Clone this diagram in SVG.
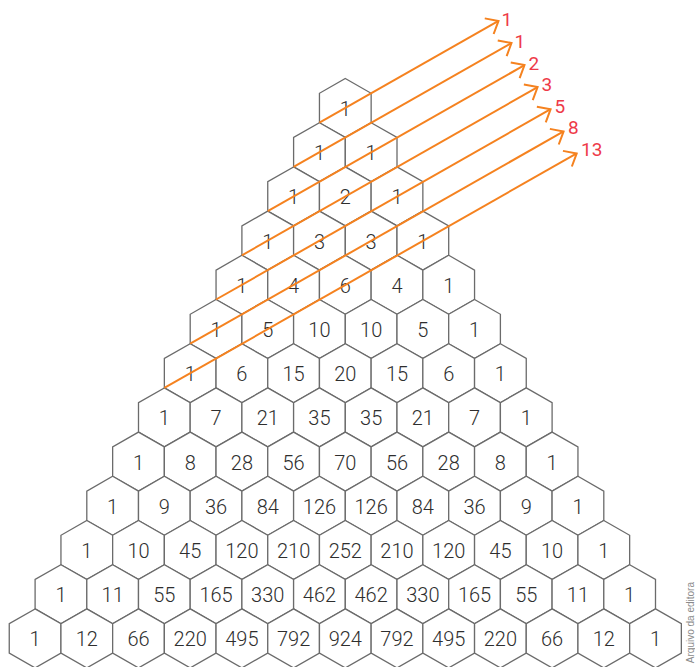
<svg xmlns="http://www.w3.org/2000/svg" xmlns:xlink="http://www.w3.org/1999/xlink" width="695" height="667" viewBox="0 0 695 667">
<style>
.hx{fill:#fff;stroke:#6b6b6b;stroke-width:1.3;stroke-linejoin:miter}
.n text{font-family:Roboto,"Liberation Sans",sans-serif;font-weight:300;font-size:20px;fill:#2e2e2e;text-anchor:middle}
.ln{fill:none;stroke:#F5821F;stroke-width:2;marker-end:url(#arr)}
.lb{font-family:Roboto,"Liberation Sans",sans-serif;font-weight:400;font-size:19px;fill:#EE3A48}
.cr{font-family:"Liberation Sans",Arial,sans-serif;font-size:10px;fill:#8a8a8a}
</style>
<defs>
<polygon id="hex" class="hx" points="0,-29.5 25.85,-14.7 25.85,14.7 0,29.5 -25.85,14.7 -25.85,-14.7"/>
<marker id="arr" markerUnits="userSpaceOnUse" markerWidth="40" markerHeight="40" refX="0" refY="0" orient="auto" overflow="visible">
<path d="M-10.7,-9 L0,0 L-10.7,9" fill="none" stroke="#F5821F" stroke-width="2"/>
</marker>
</defs>
<rect width="695" height="667" fill="#fff"/>
<g id="nodes" class="n">
<g id="n0-0" transform="translate(345.3,108)"><use href="#hex"/><text y="8">1</text></g>
<g id="n1-0" transform="translate(319.45,152.2)"><use href="#hex"/><text y="8">1</text></g>
<g id="n1-1" transform="translate(371.15,152.2)"><use href="#hex"/><text y="8">1</text></g>
<g id="n2-0" transform="translate(293.6,196.4)"><use href="#hex"/><text y="8">1</text></g>
<g id="n2-1" transform="translate(345.3,196.4)"><use href="#hex"/><text y="8">2</text></g>
<g id="n2-2" transform="translate(397,196.4)"><use href="#hex"/><text y="8">1</text></g>
<g id="n3-0" transform="translate(267.75,240.6)"><use href="#hex"/><text y="8">1</text></g>
<g id="n3-1" transform="translate(319.45,240.6)"><use href="#hex"/><text y="8">3</text></g>
<g id="n3-2" transform="translate(371.15,240.6)"><use href="#hex"/><text y="8">3</text></g>
<g id="n3-3" transform="translate(422.85,240.6)"><use href="#hex"/><text y="8">1</text></g>
<g id="n4-0" transform="translate(241.9,284.8)"><use href="#hex"/><text y="8">1</text></g>
<g id="n4-1" transform="translate(293.6,284.8)"><use href="#hex"/><text y="8">4</text></g>
<g id="n4-2" transform="translate(345.3,284.8)"><use href="#hex"/><text y="8">6</text></g>
<g id="n4-3" transform="translate(397,284.8)"><use href="#hex"/><text y="8">4</text></g>
<g id="n4-4" transform="translate(448.7,284.8)"><use href="#hex"/><text y="8">1</text></g>
<g id="n5-0" transform="translate(216.05,329)"><use href="#hex"/><text y="8">1</text></g>
<g id="n5-1" transform="translate(267.75,329)"><use href="#hex"/><text y="8">5</text></g>
<g id="n5-2" transform="translate(319.45,329)"><use href="#hex"/><text y="8">10</text></g>
<g id="n5-3" transform="translate(371.15,329)"><use href="#hex"/><text y="8">10</text></g>
<g id="n5-4" transform="translate(422.85,329)"><use href="#hex"/><text y="8">5</text></g>
<g id="n5-5" transform="translate(474.55,329)"><use href="#hex"/><text y="8">1</text></g>
<g id="n6-0" transform="translate(190.2,373.2)"><use href="#hex"/><text y="8">1</text></g>
<g id="n6-1" transform="translate(241.9,373.2)"><use href="#hex"/><text y="8">6</text></g>
<g id="n6-2" transform="translate(293.6,373.2)"><use href="#hex"/><text y="8">15</text></g>
<g id="n6-3" transform="translate(345.3,373.2)"><use href="#hex"/><text y="8">20</text></g>
<g id="n6-4" transform="translate(397,373.2)"><use href="#hex"/><text y="8">15</text></g>
<g id="n6-5" transform="translate(448.7,373.2)"><use href="#hex"/><text y="8">6</text></g>
<g id="n6-6" transform="translate(500.4,373.2)"><use href="#hex"/><text y="8">1</text></g>
<g id="n7-0" transform="translate(164.35,417.4)"><use href="#hex"/><text y="8">1</text></g>
<g id="n7-1" transform="translate(216.05,417.4)"><use href="#hex"/><text y="8">7</text></g>
<g id="n7-2" transform="translate(267.75,417.4)"><use href="#hex"/><text y="8">21</text></g>
<g id="n7-3" transform="translate(319.45,417.4)"><use href="#hex"/><text y="8">35</text></g>
<g id="n7-4" transform="translate(371.15,417.4)"><use href="#hex"/><text y="8">35</text></g>
<g id="n7-5" transform="translate(422.85,417.4)"><use href="#hex"/><text y="8">21</text></g>
<g id="n7-6" transform="translate(474.55,417.4)"><use href="#hex"/><text y="8">7</text></g>
<g id="n7-7" transform="translate(526.25,417.4)"><use href="#hex"/><text y="8">1</text></g>
<g id="n8-0" transform="translate(138.5,461.6)"><use href="#hex"/><text y="8">1</text></g>
<g id="n8-1" transform="translate(190.2,461.6)"><use href="#hex"/><text y="8">8</text></g>
<g id="n8-2" transform="translate(241.9,461.6)"><use href="#hex"/><text y="8">28</text></g>
<g id="n8-3" transform="translate(293.6,461.6)"><use href="#hex"/><text y="8">56</text></g>
<g id="n8-4" transform="translate(345.3,461.6)"><use href="#hex"/><text y="8">70</text></g>
<g id="n8-5" transform="translate(397,461.6)"><use href="#hex"/><text y="8">56</text></g>
<g id="n8-6" transform="translate(448.7,461.6)"><use href="#hex"/><text y="8">28</text></g>
<g id="n8-7" transform="translate(500.4,461.6)"><use href="#hex"/><text y="8">8</text></g>
<g id="n8-8" transform="translate(552.1,461.6)"><use href="#hex"/><text y="8">1</text></g>
<g id="n9-0" transform="translate(112.65,505.8)"><use href="#hex"/><text y="8">1</text></g>
<g id="n9-1" transform="translate(164.35,505.8)"><use href="#hex"/><text y="8">9</text></g>
<g id="n9-2" transform="translate(216.05,505.8)"><use href="#hex"/><text y="8">36</text></g>
<g id="n9-3" transform="translate(267.75,505.8)"><use href="#hex"/><text y="8">84</text></g>
<g id="n9-4" transform="translate(319.45,505.8)"><use href="#hex"/><text y="8">126</text></g>
<g id="n9-5" transform="translate(371.15,505.8)"><use href="#hex"/><text y="8">126</text></g>
<g id="n9-6" transform="translate(422.85,505.8)"><use href="#hex"/><text y="8">84</text></g>
<g id="n9-7" transform="translate(474.55,505.8)"><use href="#hex"/><text y="8">36</text></g>
<g id="n9-8" transform="translate(526.25,505.8)"><use href="#hex"/><text y="8">9</text></g>
<g id="n9-9" transform="translate(577.95,505.8)"><use href="#hex"/><text y="8">1</text></g>
<g id="n10-0" transform="translate(86.8,550)"><use href="#hex"/><text y="8">1</text></g>
<g id="n10-1" transform="translate(138.5,550)"><use href="#hex"/><text y="8">10</text></g>
<g id="n10-2" transform="translate(190.2,550)"><use href="#hex"/><text y="8">45</text></g>
<g id="n10-3" transform="translate(241.9,550)"><use href="#hex"/><text y="8">120</text></g>
<g id="n10-4" transform="translate(293.6,550)"><use href="#hex"/><text y="8">210</text></g>
<g id="n10-5" transform="translate(345.3,550)"><use href="#hex"/><text y="8">252</text></g>
<g id="n10-6" transform="translate(397,550)"><use href="#hex"/><text y="8">210</text></g>
<g id="n10-7" transform="translate(448.7,550)"><use href="#hex"/><text y="8">120</text></g>
<g id="n10-8" transform="translate(500.4,550)"><use href="#hex"/><text y="8">45</text></g>
<g id="n10-9" transform="translate(552.1,550)"><use href="#hex"/><text y="8">10</text></g>
<g id="n10-10" transform="translate(603.8,550)"><use href="#hex"/><text y="8">1</text></g>
<g id="n11-0" transform="translate(60.95,594.2)"><use href="#hex"/><text y="8">1</text></g>
<g id="n11-1" transform="translate(112.65,594.2)"><use href="#hex"/><text y="8">11</text></g>
<g id="n11-2" transform="translate(164.35,594.2)"><use href="#hex"/><text y="8">55</text></g>
<g id="n11-3" transform="translate(216.05,594.2)"><use href="#hex"/><text y="8">165</text></g>
<g id="n11-4" transform="translate(267.75,594.2)"><use href="#hex"/><text y="8">330</text></g>
<g id="n11-5" transform="translate(319.45,594.2)"><use href="#hex"/><text y="8">462</text></g>
<g id="n11-6" transform="translate(371.15,594.2)"><use href="#hex"/><text y="8">462</text></g>
<g id="n11-7" transform="translate(422.85,594.2)"><use href="#hex"/><text y="8">330</text></g>
<g id="n11-8" transform="translate(474.55,594.2)"><use href="#hex"/><text y="8">165</text></g>
<g id="n11-9" transform="translate(526.25,594.2)"><use href="#hex"/><text y="8">55</text></g>
<g id="n11-10" transform="translate(577.95,594.2)"><use href="#hex"/><text y="8">11</text></g>
<g id="n11-11" transform="translate(629.65,594.2)"><use href="#hex"/><text y="8">1</text></g>
<g id="n12-0" transform="translate(35.1,638.4)"><use href="#hex"/><text y="8">1</text></g>
<g id="n12-1" transform="translate(86.8,638.4)"><use href="#hex"/><text y="8">12</text></g>
<g id="n12-2" transform="translate(138.5,638.4)"><use href="#hex"/><text y="8">66</text></g>
<g id="n12-3" transform="translate(190.2,638.4)"><use href="#hex"/><text y="8">220</text></g>
<g id="n12-4" transform="translate(241.9,638.4)"><use href="#hex"/><text y="8">495</text></g>
<g id="n12-5" transform="translate(293.6,638.4)"><use href="#hex"/><text y="8">792</text></g>
<g id="n12-6" transform="translate(345.3,638.4)"><use href="#hex"/><text y="8">924</text></g>
<g id="n12-7" transform="translate(397,638.4)"><use href="#hex"/><text y="8">792</text></g>
<g id="n12-8" transform="translate(448.7,638.4)"><use href="#hex"/><text y="8">495</text></g>
<g id="n12-9" transform="translate(500.4,638.4)"><use href="#hex"/><text y="8">220</text></g>
<g id="n12-10" transform="translate(552.1,638.4)"><use href="#hex"/><text y="8">66</text></g>
<g id="n12-11" transform="translate(603.8,638.4)"><use href="#hex"/><text y="8">12</text></g>
<g id="n12-12" transform="translate(655.5,638.4)"><use href="#hex"/><text y="8">1</text></g>
</g>
<g id="connectors">
<path class="ln" d="M319.45,122.7 L498.5,20.9"/>
<path class="ln" d="M293.6,166.9 L511.5,43"/>
<path class="ln" d="M267.75,211.1 L524.5,65.1"/>
<path class="ln" d="M241.9,255.3 L537.6,87.1"/>
<path class="ln" d="M216.05,299.5 L550.6,109.2"/>
<path class="ln" d="M190.2,343.7 L563.6,131.4"/>
<path class="ln" d="M164.35,387.9 L576.7,153.4"/>
</g>
<g id="labels">
<text class="lb" x="501.5" y="25.7">1</text>
<text class="lb" x="514.5" y="47.7">1</text>
<text class="lb" x="528.5" y="69.5">2</text>
<text class="lb" x="541.5" y="91">3</text>
<text class="lb" x="554.5" y="113">5</text>
<text class="lb" x="568" y="133.5">8</text>
<text class="lb" x="581" y="156">13</text>
</g>
<text class="cr" transform="translate(693.5,582) rotate(-90)" text-anchor="end">Arquivo da editora</text>
</svg>
